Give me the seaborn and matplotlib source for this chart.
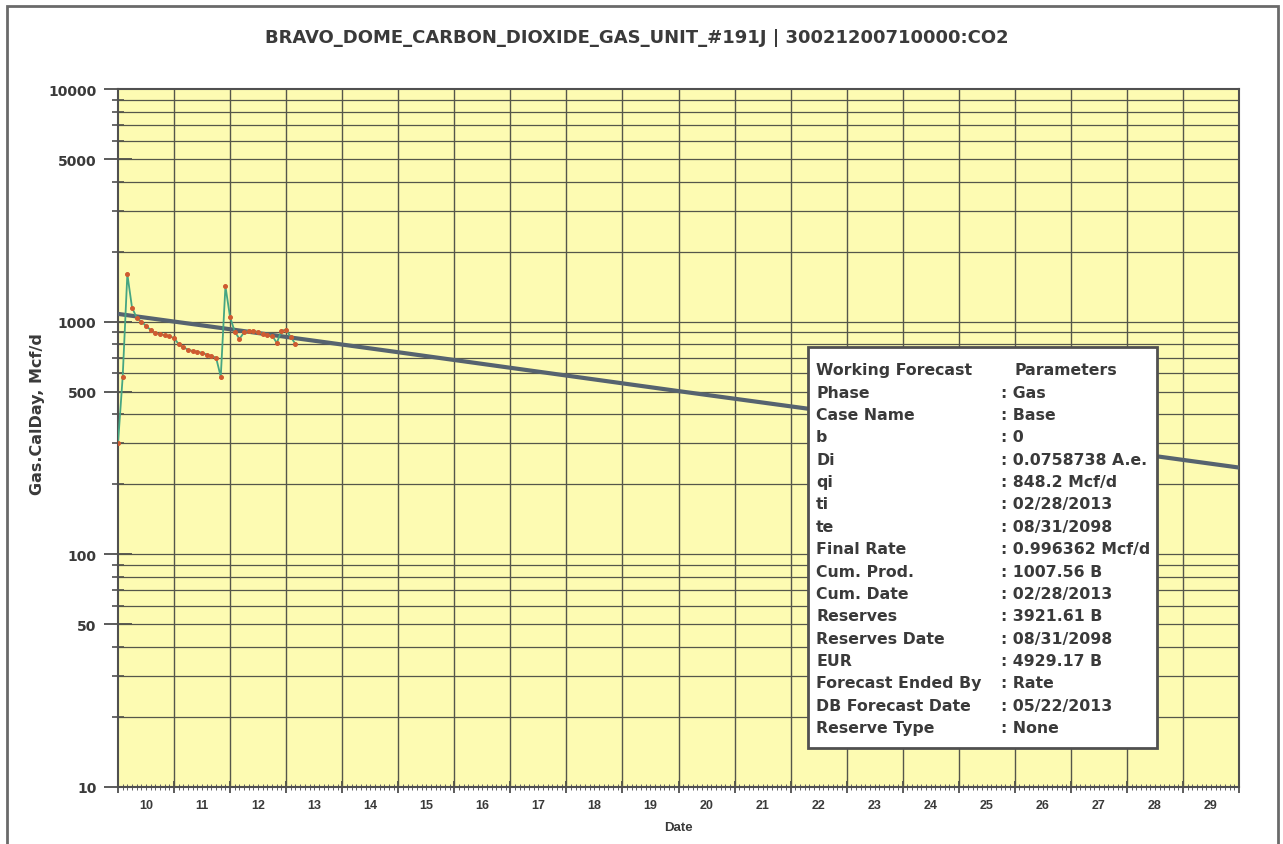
import numpy as np
import pandas as pd
import matplotlib
matplotlib.use("Agg")
import matplotlib.pyplot as plt
import matplotlib.patches as mpatches
import matplotlib.ticker as mticker
import seaborn as sns

# ---------------- data ----------------
title = "BRAVO_DOME_CARBON_DIOXIDE_GAS_UNIT_#191J | 30021200710000:CO2"
y_label = "Gas.CalDay, Mcf/d"
x_label = "Date"

# monthly observed rate (Mcf/d), starting Jan 2010
obs_start_year = 2010.0
obs_rate = [300, 578, 1600, 1150, 1040, 1000, 960, 920, 893, 885, 875, 866,
            850, 800, 776, 758, 748, 742, 735, 722, 712, 700, 580, 1420,
            1044, 906, 843, 900, 915, 910, 900, 886, 878, 871, 810, 915,
            924, 857, 802]

# forecast line
fc_year = [2010, 2015, 2020, 2025, 2030]
fc_rate = [1080, 739, 503, 345, 236]

year_labels = [str(y)[2:] for y in range(2010, 2030)]
y_labeled = [10, 50, 100, 500, 1000, 5000, 10000]
y_labeled_text = ["10", "50", "100", "500", "1000", "5000", "10000"]

params_left = ["Working Forecast", "Phase", "Case Name", "b", "Di", "qi", "ti", "te",
               "Final Rate", "Cum. Prod.", "Cum. Date", "Reserves", "Reserves Date",
               "EUR", "Forecast Ended By", "DB Forecast Date", "Reserve Type"]
params_right = ["Parameters", ": Gas", ": Base", ": 0", ": 0.0758738 A.e.", ": 848.2 Mcf/d",
                ": 02/28/2013", ": 08/31/2098", ": 0.996362 Mcf/d", ": 1007.56 B",
                ": 02/28/2013", ": 3921.61 B", ": 08/31/2098", ": 4929.17 B",
                ": Rate", ": 05/22/2013", ": None"]

# ---------------- styling ----------------
sns.set_style("white")
plt.rcParams["font.family"] = ["DejaVu Sans"]
plt.rcParams["font.weight"] = "bold"
WIDE = ["DejaVu Sans"]
NARROW = ["Liberation Sans", "DejaVu Sans"]
TXT = "#3a3a3a"

W, H = 1283, 845
fig = plt.figure(figsize=(W / 100, H / 100), dpi=100)
fig.patch.set_facecolor("white")

axL, axR, axT, axB = 118, 1239, 90, 788
ax = fig.add_axes([axL / W, 1 - axB / H, (axR - axL) / W, (axB - axT) / H])
ax.set_facecolor("#fdfbb2")

obs_df = pd.DataFrame({
    "year": [obs_start_year + i / 12 for i in range(len(obs_rate))],
    "rate": obs_rate,
})
fc_df = pd.DataFrame({"year": fc_year, "rate": fc_rate})

ax.set_yscale("log")
ax.set_xlim(2010, 2030)
ax.set_ylim(10, 10000)

# grid lines
grid_col = "#55564a"
for y in range(2011, 2030):
    ax.axvline(y, color=grid_col, lw=1.0, zorder=1)
all_y = []
for dec in [10, 100, 1000]:
    for m in range(1, 10):
        all_y.append(dec * m)
all_y.append(10000)
for v in all_y:
    if 10 < v < 10000:
        ax.axhline(v, color=grid_col, lw=0.9, zorder=1)

sns.lineplot(data=fc_df, x="year", y="rate", ax=ax, color="#56636f", lw=3.0,
             zorder=3, legend=False)
sns.lineplot(data=obs_df, x="year", y="rate", ax=ax, color="#45a582", lw=1.3,
             marker="o", markersize=2.8, markerfacecolor="#cf5a30",
             markeredgecolor="#cf5a30", zorder=4, legend=False)

# y ticks: labeled ones long, others short
ax.yaxis.set_major_locator(mticker.FixedLocator(y_labeled))
ax.yaxis.set_major_formatter(mticker.FixedFormatter(y_labeled_text))
ax.yaxis.set_minor_locator(mticker.FixedLocator([v for v in all_y if v not in y_labeled]))
ax.yaxis.set_minor_formatter(mticker.NullFormatter())
ax.tick_params(axis="y", which="major", left=True, direction="inout", length=20,
               width=1.2, color="#404040", labelsize=10, labelcolor=TXT, pad=5.5)
ax.tick_params(axis="y", which="minor", left=True, direction="inout", length=8.6,
               width=1.1, color="#404040")
for lab in ax.get_yticklabels():
    lab.set_fontfamily(WIDE)
    lab.set_fontweight("bold")

# x ticks: year boundaries + monthly minor
ax.set_xticks(list(range(2010, 2031)))
ax.set_xticklabels([""] * 21)
ax.set_xticks([2010 + i / 12 for i in range(0, 241)], minor=True)
ax.tick_params(axis="x", which="major", bottom=True, direction="inout", length=9,
               width=1.2, color="#404040")
ax.tick_params(axis="x", which="minor", bottom=True, direction="inout", length=4,
               width=0.7, color="#606060")

sec = ax.secondary_xaxis("bottom")
sec.set_xticks([y + 0.5 for y in range(2010, 2030)])
sec.set_xticklabels(year_labels)
sec.tick_params(length=0, labelsize=9, labelcolor=TXT, pad=9)
for lab in sec.get_xticklabels():
    lab.set_fontfamily(NARROW)
    lab.set_fontweight("bold")
sec.spines["bottom"].set_visible(False)

for s in ax.spines.values():
    s.set_color("#505050")
    s.set_linewidth(1.5)

ax.set_xlabel("")
ax.set_ylabel("")
fig.text(678 / W, 1 - 828 / H, x_label, ha="center", va="center", fontsize=9.5,
         fontweight="bold", color=TXT, family=NARROW)
fig.text(38 / W, 1 - 414 / H, y_label, ha="center", va="center", rotation=90,
         fontsize=11.5, fontweight="bold", color=TXT, family=WIDE)
fig.text(637 / W, 1 - 38 / H, title, ha="center", va="center", fontsize=13,
         fontweight="bold", color=TXT, family=WIDE)

# parameters box
bx0, by0, bx1, by1 = 808, 348, 1157, 749
box = mpatches.Rectangle((bx0 / W, 1 - by1 / H), (bx1 - bx0) / W, (by1 - by0) / H,
                         transform=fig.transFigure, facecolor="white",
                         edgecolor="#505050", lw=2, zorder=10)
fig.add_artist(box)
row0, step = 370.8, 22.36
for i, (l, r) in enumerate(zip(params_left, params_right)):
    yy = 1 - (row0 + i * step) / H
    fig.text(816 / W, yy, l, ha="left", va="center", fontsize=11.3,
             fontweight="bold", color=TXT, zorder=11, family=WIDE)
    xr = 1014 if i == 0 else 1001
    fig.text(xr / W, yy, r, ha="left", va="center", fontsize=11.3,
             fontweight="bold", color=TXT, zorder=11, family=WIDE)

# outer frame
frame = mpatches.Rectangle((7 / W, -0.05), (1278 - 7) / W, 1.05 - 7 / H,
                           transform=fig.transFigure, facecolor="none",
                           edgecolor="#6a6a6a", lw=2)
fig.add_artist(frame)

fig.savefig("out.png", dpi=100)
